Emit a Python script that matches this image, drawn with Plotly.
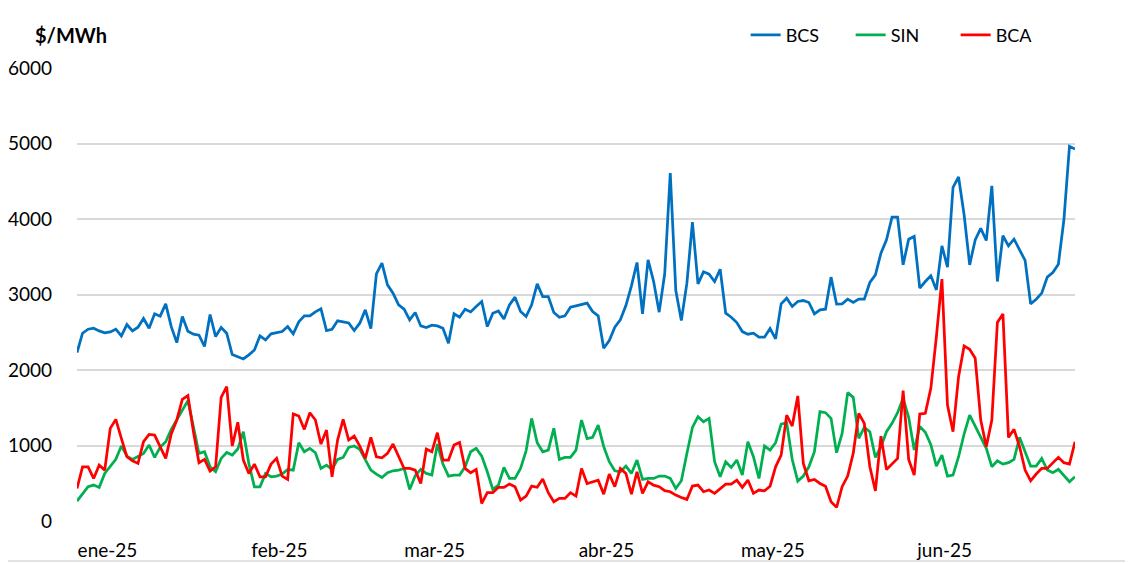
import pandas as pd
import plotly.graph_objects as go

dates = pd.date_range("2025-01-01", periods=181, freq="D")

bcs = [
    2231, 2487, 2540, 2553, 2518, 2492, 2505, 2540, 2452, 2602, 2518, 2567, 2682, 2553, 2744, 2713,
    2876, 2575, 2363, 2708, 2514, 2474, 2461, 2311, 2735, 2443, 2563, 2487, 2204, 2177, 2146, 2200,
    2265, 2452, 2399, 2479, 2496, 2509, 2575, 2479, 2638, 2717, 2717, 2770, 2810, 2523, 2540, 2651,
    2638, 2624, 2523, 2620, 2796, 2549, 3274, 3415, 3128, 3018, 2863, 2805, 2664, 2761, 2584, 2563,
    2593, 2584, 2553, 2354, 2744, 2699, 2805, 2770, 2841, 2907, 2575, 2752, 2783, 2677, 2863, 2965,
    2774, 2708, 2863, 3141, 2973, 2973, 2761, 2699, 2717, 2832, 2849, 2867, 2885, 2774, 2717, 2288,
    2390, 2567, 2664, 2854, 3115, 3424, 2744, 3459, 3172, 2766, 3274, 4609, 3053, 2655, 3150, 3959,
    3141, 3300, 3269, 3172, 3335, 2752, 2699, 2629, 2509, 2474, 2487, 2434, 2434, 2549, 2412, 2876,
    2951, 2841, 2907, 2920, 2894, 2744, 2796, 2805, 3230, 2872, 2876, 2938, 2894, 2938, 2938, 3159,
    3260, 3548, 3724, 4025, 4025, 3393, 3733, 3769, 3084, 3172, 3247, 3061, 3645, 3362, 4418, 4556,
    4056, 3393, 3724, 3875, 3715, 4440, 3172, 3778, 3645, 3733, 3583, 3451, 2876, 2938, 3018, 3230,
    3291, 3402, 3990, 4962, 4927,
]

sin = [
    264, 366, 454, 476, 445, 630, 718, 816, 993, 860, 816, 851, 895, 1006, 842, 975,
    1050, 1213, 1338, 1461, 1594, 1249, 895, 917, 718, 652, 829, 908, 873, 953, 1182, 760,
    452, 452, 630, 586, 594, 621, 683, 674, 1036, 917, 961, 904, 696, 740, 683, 816,
    842, 975, 993, 948, 807, 674, 621, 577, 639, 665, 674, 696, 418, 600, 685, 630,
    608, 1019, 753, 594, 608, 608, 718, 917, 961, 860, 652, 418, 475, 709, 564, 564,
    696, 930, 1359, 1036, 917, 939, 1227, 816, 842, 842, 939, 1337, 1090, 1107, 1271, 984,
    785, 665, 652, 727, 630, 807, 551, 564, 564, 595, 595, 564, 431, 533, 895, 1240,
    1381, 1315, 1359, 785, 586, 785, 709, 807, 608, 1050, 851, 564, 993, 939, 1037, 1284,
    1302, 815, 528, 595, 718, 917, 1448, 1435, 1359, 905, 1160, 1700, 1638, 1094, 1240, 1183,
    842, 984, 1183, 1293, 1435, 1625, 1373, 939, 1253, 1175, 1010, 728, 873, 595, 608, 851,
    1152, 1403, 1257, 1116, 962, 719, 798, 754, 772, 816, 1108, 918, 728, 728, 830, 675,
    640, 684, 595, 520, 587,
]

bca = [
    431, 718, 718, 564, 740, 674, 1227, 1346, 1095, 851, 798, 763, 1050, 1147, 1138, 984,
    829, 1152, 1338, 1612, 1661, 1182, 772, 816, 661, 718, 1638, 1780, 993, 1307, 807, 630,
    753, 586, 586, 753, 829, 594, 550, 1417, 1390, 1213, 1434, 1338, 1019, 1204, 586, 1072,
    1346, 1072, 1125, 993, 829, 1107, 851, 838, 895, 1019, 851, 696, 696, 674, 497, 952,
    917, 1170, 807, 807, 1006, 1041, 696, 639, 683, 233, 375, 375, 446, 446, 490, 454,
    277, 330, 462, 446, 556, 375, 255, 299, 299, 375, 330, 696, 497, 519, 541, 356,
    621, 454, 696, 630, 356, 652, 365, 519, 475, 454, 401, 388, 343, 312, 286, 463,
    476, 388, 410, 366, 432, 489, 489, 542, 445, 542, 366, 410, 399, 461, 718, 873,
    1403, 1258, 1656, 763, 533, 551, 497, 461, 255, 180, 454, 595, 895, 1426, 1293, 718,
    399, 1124, 683, 763, 829, 1727, 816, 608, 1417, 1426, 1757, 2442, 3203, 1537, 1183, 1911,
    2318, 2274, 2155, 1337, 984, 1337, 2629, 2743, 1108, 1214, 984, 675, 533, 622, 697, 697,
    772, 843, 772, 755, 1050,
]

month_ticks = pd.to_datetime(["2025-01-06 12:00", "2025-02-06 12:00", "2025-03-06 12:00",
                              "2025-04-06 12:00", "2025-05-06 12:00", "2025-06-06 12:00"])
month_labels = ["ene-25", "feb-25", "mar-25", "abr-25", "may-25", "jun-25"]

FONT = "Lato, Carlito, Calibri, sans-serif"

fig = go.Figure()
fig.add_trace(go.Scatter(x=dates, y=bcs, name="BCS", mode="lines",
                         line=dict(color="#0070C0", width=2.75)))
fig.add_trace(go.Scatter(x=dates, y=sin, name="SIN", mode="lines",
                         line=dict(color="#00B050", width=2.75)))
fig.add_trace(go.Scatter(x=dates, y=bca, name="BCA", mode="lines",
                         line=dict(color="#FF0000", width=2.75)))

# page body has an 8px margin, so the figure is sized/placed to compensate
fig.update_layout(
    width=1125, height=555,
    margin=dict(l=69, r=58, t=60, b=42, autoexpand=False),
    paper_bgcolor="white", plot_bgcolor="white",
    font=dict(family=FONT, size=19, color="black"),
    showlegend=True,
    legend=dict(orientation="h", xref="container", yref="container",
                x=0.6557, y=0.951, xanchor="left", yanchor="middle",
                font=dict(size=18), entrywidth=60, bgcolor="rgba(0,0,0,0)"),
    annotations=[dict(text="<b>$/MWh</b>", xref="paper", yref="paper",
                      x=-44 / 998, y=(521 - 35) / 453, xanchor="left", yanchor="middle",
                      showarrow=False, font=dict(size=20, color="black"))],
    shapes=[
        dict(type="line", xref="paper", yref="paper",
             x0=1050 / 998, x1=1050 / 998, y0=-40 / 453, y1=514 / 453,
             line=dict(color="#d9d9d9", width=1.5)),
        dict(type="line", xref="paper", yref="paper",
             x0=-69 / 998, x1=1050 / 998, y0=-40 / 453, y1=-40 / 453,
             line=dict(color="#d9d9d9", width=1.5)),
    ],
)

fig.update_xaxes(
    range=[dates[0], dates[-1]],
    tickvals=month_ticks, ticktext=month_labels,
    showgrid=False, zeroline=False, showline=False, ticks="",
    ticklabelstandoff=16, automargin=False,
)
fig.update_yaxes(
    range=[0, 6000], tickvals=[0, 1000, 2000, 3000, 4000, 5000, 6000],
    showgrid=True, gridcolor="#d9d9d9", gridwidth=1.5, zeroline=False,
    showline=False, ticks="", ticklabelstandoff=24, automargin=False,
)

fig.write_html("out.html")
